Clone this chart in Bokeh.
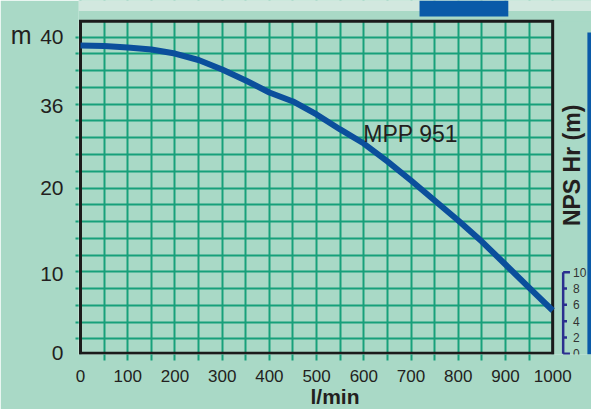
import numpy as np
from bokeh.plotting import figure
from bokeh.models import Range1d, FixedTicker, LinearAxis
from bokeh.core.properties import value
from bokeh.embed import file_html
from bokeh.resources import INLINE

# ---------------- data ----------------
flow = [0, 50, 100, 150, 200, 250, 300, 350, 400, 450, 500,
        550, 600, 650, 700, 750, 800, 850, 900, 950, 1000]
head = [35.0, 34.95, 34.77, 34.53, 34.05, 33.28, 32.14, 30.83, 29.40, 28.33, 26.78,
        24.99, 23.31, 21.17, 18.90, 16.51, 14.12, 11.61, 8.87, 6.12, 3.38]
curve_name = "MPP 951"

x_ticks = [0, 100, 200, 300, 400, 500, 600, 700, 800, 900, 1000]
x_tick_labels = [str(v) for v in x_ticks]
y_tick_pos = [-1.72, 7.7, 18, 27.8, 36]
y_tick_labels = ["0", "10", "20", "36", "40"]
y_unit = "m"
npsh_ticks = [0, 2, 4, 6, 8, 10]
npsh_labels = ["0", "2", "4", "6", "8", "10"]
npsh_title = "NPS Hr (m)"

# ---------------- layout / style ----------------
BG = "#a9d9c6"
HEADER_BG = "#d2e8df"
GRID = "#17a07a"
CURVE = "#0b4f9c"
INK = "#231f20"
NPSH_COL = "#2b2f8f"
BLUE = "#0a5aa8"
FONT = "Liberation Sans"

X_START, X_END = -4.24, 1082.2
Y_START, Y_END = -1.87, 40.38
BOX_BOTTOM, BOX_TOP = -1.72, 37.91
HEADER_BOTTOM = 39.13
TAB_X0, TAB_X1, TAB_Y0 = 718, 906, 38.47
BAR_X0, BAR_TOP = 1073.5, 36.56
NPSH_START, NPSH_END = -0.082, 43.30
NX, NX_SHORT, NX_LONG, NX_LABEL = 1022.2, 1030.3, 1036.6, 1043.0
UNIT_POS = 36.3

p = figure(frame_width=513, frame_height=354,
           x_range=Range1d(X_START, X_END), y_range=Range1d(Y_START, Y_END),
           output_backend="svg", toolbar_location=None,
           min_border_left=78, min_border_right=0, min_border_top=0, min_border_bottom=55,
           background_fill_color=BG, border_fill_color=BG, outline_line_color=None)

# grid
p.xgrid.ticker = FixedTicker(ticks=list(range(0, 1001, 50)))
p.ygrid.ticker = FixedTicker(ticks=list(range(0, 37, 2)))
for g in (p.xgrid[0], p.ygrid[0]):
    g.grid_line_color = GRID
    g.grid_line_width = 2

# x axis
xa = p.xaxis[0]
xa.ticker = FixedTicker(ticks=x_ticks, minor_ticks=list(range(50, 1000, 50)))
xa.major_label_overrides = {t: l for t, l in zip(x_ticks, x_tick_labels)}
xa.bounds = (0, 1000)
xa.axis_line_color = None
xa.major_tick_line_color = None
xa.major_tick_out = 0
xa.major_tick_in = 0
xa.minor_tick_line_color = GRID
xa.minor_tick_line_width = 2
xa.minor_tick_out = 6
xa.minor_tick_in = 0
xa.major_label_text_font = FONT
xa.major_label_text_font_size = "17px"
xa.major_label_text_color = INK
xa.major_label_standoff = 9
xa.axis_label = "l/min"
xa.axis_label_text_font = FONT
xa.axis_label_text_font_style = "bold"
xa.axis_label_text_font_size = "21px"
xa.axis_label_text_color = INK
xa.axis_label_standoff = 0

# y axis
ya = p.yaxis[0]
ya.ticker = FixedTicker(ticks=y_tick_pos, minor_ticks=list(range(0, 37, 2)))
ya.major_label_overrides = {t: l for t, l in zip(y_tick_pos, y_tick_labels)}
ya.axis_line_color = None
ya.major_tick_line_color = None
ya.major_tick_out = 0
ya.major_tick_in = 0
ya.minor_tick_line_color = GRID
ya.minor_tick_line_width = 2
ya.minor_tick_out = 3
ya.minor_tick_in = 0
ya.major_label_text_font = FONT
ya.major_label_text_font_size = "21px"
ya.major_label_text_color = INK
ya.major_label_standoff = 12

# unit "m" of the head axis, as a second left axis
ua = LinearAxis(ticker=FixedTicker(ticks=[UNIT_POS]),
                major_label_overrides={UNIT_POS: y_unit},
                axis_line_color=None, major_tick_line_color=None,
                minor_tick_line_color=None, major_tick_out=0, major_tick_in=0,
                minor_tick_out=0, minor_tick_in=0,
                major_label_text_font=FONT, major_label_text_font_size="25px",
                major_label_text_color=INK, major_label_standoff=6)
p.add_layout(ua, "left")

# cover grid lines outside the chart box
p.quad(left=[1000], right=[X_END], bottom=[Y_START], top=[Y_END],
       fill_color=BG, line_color=None)
p.quad(left=[X_START], right=[X_END], bottom=[BOX_TOP], top=[Y_END],
       fill_color=BG, line_color=None)
# header strip, tab and side bar of the page
p.quad(left=[X_START], right=[X_END], bottom=[HEADER_BOTTOM], top=[Y_END],
       fill_color=HEADER_BG, line_color=None)
p.quad(left=[TAB_X0], right=[TAB_X1], bottom=[TAB_Y0], top=[Y_END],
       fill_color=BLUE, line_color=None)
p.quad(left=[BAR_X0], right=[X_END], bottom=[Y_START], top=[BAR_TOP],
       fill_color=BLUE, line_color=None)

# chart box
p.quad(left=[0], right=[1000], bottom=[BOX_BOTTOM], top=[BOX_TOP],
       fill_color=None, line_color="#1b1b1b", line_width=3, line_join="miter")

# curve
p.line(flow, head, line_color=CURVE, line_width=6, line_join="round")
p.text(x=[599], y=[24.4], text=[curve_name], text_font=value(FONT),
       text_font_size="23px", text_color=INK, text_align="left",
       text_baseline="alphabetic")

# NPSH scale
p.extra_y_ranges = {"npsh": Range1d(NPSH_START, NPSH_END)}
n = len(npsh_ticks)
p.segment(x0=[NX], y0=[npsh_ticks[0]], x1=[NX], y1=[npsh_ticks[-1]],
          y_range_name="npsh", line_color=NPSH_COL, line_width=2.5)
tick_x1 = [NX_LONG if i in (0, n - 1) else NX_SHORT for i in range(n)]
p.segment(x0=[NX] * n, y0=npsh_ticks, x1=tick_x1, y1=npsh_ticks,
          y_range_name="npsh", line_color=NPSH_COL, line_width=2.5)
p.text(x=[NX_LABEL] * n, y=npsh_ticks, text=npsh_labels, y_range_name="npsh",
       text_font=value(FONT), text_font_size="12px", text_color="#333333",
       text_align="left", text_baseline="middle")
p.text(x=[1040], y=[20.7], text=[npsh_title], angle=np.pi / 2,
       text_font=value(FONT), text_font_size="23px", text_font_style="bold",
       text_color=INK, text_align="center", text_baseline="middle")

open("out.html", "w").write(file_html(p, INLINE))
